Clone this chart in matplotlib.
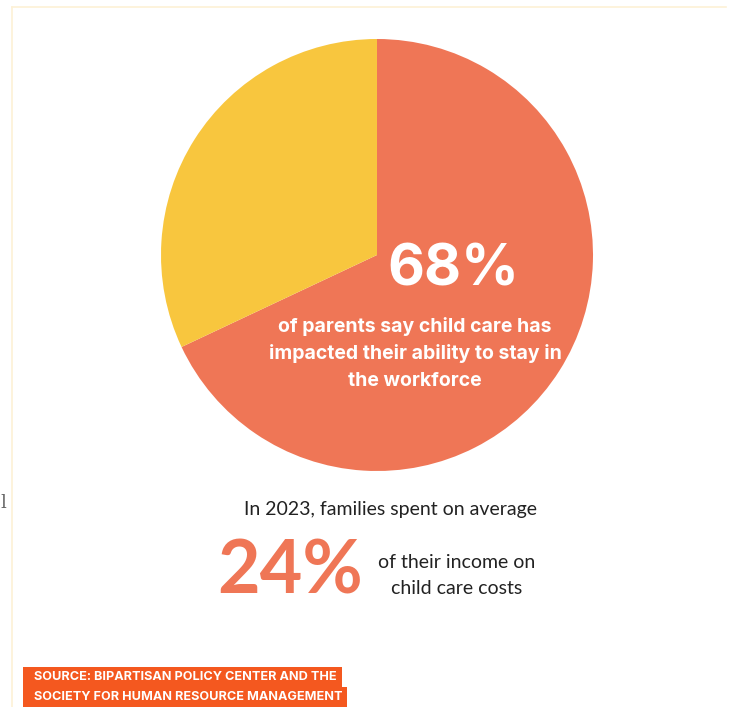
import matplotlib.pyplot as plt
from matplotlib.patches import Rectangle

# data
labels = ['Impacted', 'Not impacted']
shares = [68, 32]
colors = ['#EF7656', '#F8C63E']
headline = '68%'
headline_text = ['of parents say child care has',
                 'impacted their ability to stay in',
                 'the workforce']
spend_intro = 'In 2023, families spent on average'
spend_value = '24%'
spend_text = ['of their income on', 'child care costs']
source_lines = ['SOURCE: BIPARTISAN POLICY CENTER AND THE',
                'SOCIETY FOR HUMAN RESOURCE MANAGEMENT']

plt.rcParams['font.family'] = ['Lato', 'DejaVu Sans']
BOLD = ['Inter', 'Lato', 'DejaVu Sans']

W, H = 731, 707
fig = plt.figure(figsize=(W / 100, H / 100), dpi=100)
ax = fig.add_axes([0, 0, 1, 1])


def Y(y):
    # pixel row from top -> data y
    return H - y


ax.pie(shares, colors=colors, startangle=90, counterclock=False,
       center=(377, Y(255)), radius=216,
       wedgeprops=dict(linewidth=0))
ax.set_xlim(0, W)
ax.set_ylim(0, H)
ax.set_aspect('equal')
ax.axis('off')

# thin frame lines
border = '#FDF1D6'
ax.plot([12, 12], [Y(7), 0], color=border, lw=1.2)
ax.plot([12, 726], [Y(7), Y(7)], color=border, lw=1.2)
ax.text(0, Y(503), 'l', color='#666666', fontsize=13, family='DejaVu Serif',
        ha='left', va='center')

# pie annotation
ax.text(453, Y(271), headline, color='white', fontsize=41, fontweight='bold',
        family=BOLD, ha='center', va='center')
for i, line in enumerate(headline_text):
    ax.text(415, Y(326 + i * 27.5), line, color='white', fontsize=14,
            fontweight='bold', family=BOLD, ha='center', va='center')

# spending block
ax.text(391, Y(510), spend_intro, color='#222222', fontsize=14,
        ha='center', va='center')
ax.text(290, Y(572), spend_value, color='#EF7656', fontsize=53,
        fontweight='bold', ha='center', va='center')
for i, line in enumerate(spend_text):
    ax.text(457, Y(562 + i * 26), line, color='#222222', fontsize=14,
            ha='center', va='center')

# source box
src = '#F4581F'
ax.add_patch(Rectangle((23, Y(687)), 319, 20, color=src, lw=0))
ax.add_patch(Rectangle((23, Y(707)), 324, 20, color=src, lw=0))
for i, line in enumerate(source_lines):
    ax.text(34, Y(677 + i * 20), line, color='white', fontsize=9.1,
            fontweight='bold', family=BOLD, ha='left', va='center')

fig.savefig('out.png', dpi=100)
